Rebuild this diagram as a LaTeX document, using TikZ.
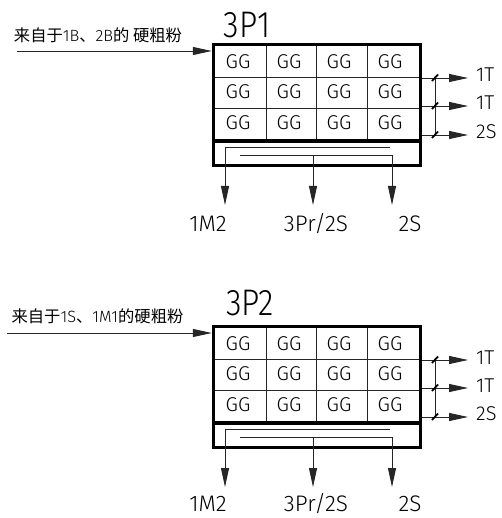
\documentclass[tikz,border=0pt]{standalone}
\usepackage{fontspec}
\usepackage{graphicx}
\newfontfamily\cjk{Noto Sans CJK SC}
\newfontfamily\cad{Fira Sans Light}
\newfontfamily\cadn{Fira Sans Light}[FakeStretch=0.86]
\usetikzlibrary{arrows.meta}
\tikzset{
  x=1pt, y=-1pt,
  boxframe/.style={draw, line width=3.5pt, minimum width=207pt, minimum height=121pt, inner sep=0},
  sepline/.style={line width=4pt},
  gridline/.style={line width=0.9pt, black!85},
  flow/.style={line width=0.9pt, black!85, -{Triangle[length=19pt,width=8pt]}},
  tick/.style={line width=1.8pt, line cap=butt},
  cell/.style={font=\cad\fontsize{20}{21}\selectfont, inner sep=0, anchor=base},
  ttl/.style={font=\cadn\fontsize{37}{38}\selectfont, inner sep=0, anchor=base},
  outlbl/.style={font=\cad\fontsize{22.5}{24}\selectfont, inner sep=0, anchor=base},
  sidelbl/.style={font=\cad\fontsize{20}{21}\selectfont, inner sep=0, anchor=base west},
  srclbl/.style={font=\cjk\fontsize{16.3}{17}\selectfont, inner sep=0},
}
% #1 prefix, #2 title, #3 title position, #4 source text, #5 source text position, #6 arrow start x, #7 baseline of lower labels
\newcommand\millunit[7]{%
  \node[boxframe] (#1box) at (317,104.8) {};
  \node[ttl] (#1title) at (#3) {#2};
  \node[srclbl] (#1src) at (#5) {#4};
  \coordinate (#1in) at (#6,51);
  \draw[flow] (#1in) -- (#1in -| #1box.west);
  % grid
  \foreach \yy in {77.7,108.3} \draw[gridline] (215,\yy) -- (419,\yy);
  \foreach \xx in {266,316,367} \draw[gridline] (\xx,46) -- (\xx,139);
  \draw[sepline] (213.5,141) -- (420.5,141);
  \foreach \cx [count=\ci] in {238,289,339,390}
    \foreach \by [count=\ri] in {68.3,98.3,129.3}
      \node[cell] (#1g\ri\ci) at (\cx,\by) {GG};
  % right outputs
  \node[sidelbl] (#1o1) at (476,82) {1T};
  \node[sidelbl] (#1o2) at (476,110) {1T};
  \node[sidelbl] (#1o3) at (476,138.5) {2S};
  \coordinate (#1e1) at (468,78);
  \coordinate (#1e2) at (468,106);
  \coordinate (#1e3) at (468,135);
  \foreach \k in {1,2,3} {
    \draw[flow] (#1box.east |- #1e\k) -- (#1e\k);
  }
  \draw[gridline] (435,78) -- (435,135);
  \foreach \yy in {78,106,135} \draw[tick] (432,\yy+3) -- (438,\yy-3.5);
  % lower outputs
  \node[outlbl] (#1d1) at (208,#7) {1M2};
  \node[outlbl] (#1d2) at (316,#7) {3Pr/2S};
  \node[outlbl] (#1d3) at (410,#7) {2S};
  \coordinate (#1t1) at (225,205);
  \coordinate (#1t2) at (313,205);
  \coordinate (#1t3) at (392,205);
  \draw[flow] (390,147.3) -| (#1t1);
  \draw[flow] (240,155) -| (#1t3);
  \draw[flow] (313,155) -- (#1t2);
}
\begin{document}
\begin{tikzpicture}
\useasboundingbox (0,0) rectangle (501,518);
\begin{scope}
  \millunit{a}{3P1}{247,37.3}{来自于{\cad 1B}、{\cad 2B}的 硬粗粉}{98,35.5}{17}{232}
\end{scope}
\begin{scope}[shift={(0,282)}]
  \millunit{b}{3P2}{250,33}{来自于{\cad 1S}、{\cad 1M1}的硬粗粉}{97.5,34.5}{7}{229}
\end{scope}
\end{tikzpicture}
\end{document}
